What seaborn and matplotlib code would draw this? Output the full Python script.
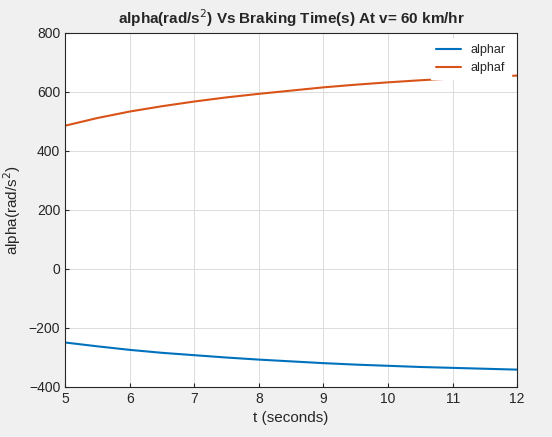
import matplotlib
matplotlib.use("Agg")
import matplotlib.pyplot as plt
import pandas as pd
import seaborn as sns

# values
t = [5, 5.5, 6, 6.5, 7, 7.5, 8, 8.5, 9, 9.5, 10, 10.5, 11, 11.5, 12]
alphar = [-250, -263, -275, -285, -293, -301, -308, -314, -320, -325, -329, -333, -336, -339, -342]
alphaf = [485, 511, 533, 551, 567, 581, 593, 604, 615, 624, 632, 639, 645, 650, 655]

df = pd.DataFrame({"t": t + t, "alpha": alphar + alphaf,
                   "series": ["alphar"] * len(t) + ["alphaf"] * len(t)})

sns.set_style("whitegrid")
plt.rcParams["font.family"] = ["Arial", "Liberation Sans", "DejaVu Sans"]

fig, ax = plt.subplots(figsize=(5.52, 4.37), dpi=100)
fig.patch.set_facecolor("#f0f0f0")
sns.lineplot(data=df, x="t", y="alpha", hue="series",
             palette={"alphar": "#0072BD", "alphaf": "#D95319"}, linewidth=1.5, ax=ax)

ax.set_xlim(5, 12)
ax.set_ylim(-400, 800)
ax.set_xticks(range(5, 13))
ax.set_yticks(range(-400, 801, 200))
ax.grid(True, color="#dcdcdc", linewidth=0.7)
for s in ax.spines.values():
    s.set_color("#262626")
    s.set_linewidth(0.8)
ax.tick_params(labelsize=10, colors="#262626", direction="in", length=3, left=True, bottom=True)
ax.set_xlabel("t (seconds)", fontsize=11)
ax.set_ylabel("alpha(rad/s$^2$)", fontsize=11)
ax.set_title("alpha(rad/s$^2$) Vs Braking Time(s) At v= 60 km/hr", fontsize=11, fontweight="bold")
leg = ax.legend(loc="upper right", frameon=True, fontsize=9, fancybox=False,
                edgecolor="white", framealpha=1, title=None)

fig.subplots_adjust(left=0.118, right=0.937, top=0.925, bottom=0.115)
fig.savefig("out.png", dpi=100, facecolor=fig.get_facecolor())
